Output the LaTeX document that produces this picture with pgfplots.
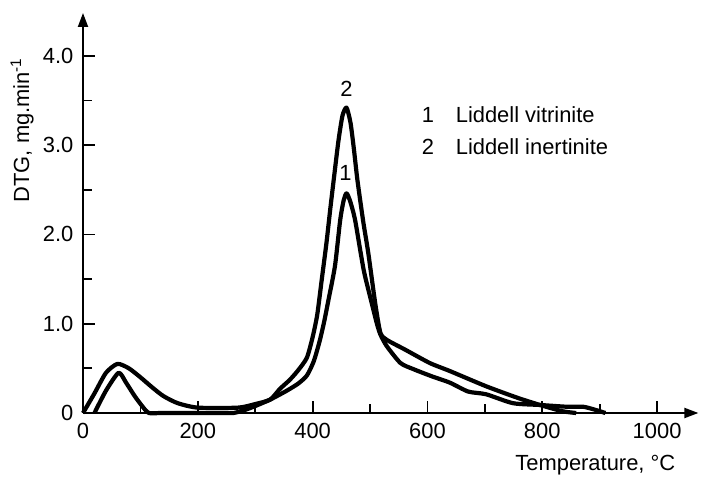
\documentclass[border=0pt]{standalone}
\usepackage{fontspec}
\setmainfont{Liberation Sans}
\usepackage{pgfplots}
\pgfplotsset{compat=1.18}
\usetikzlibrary{arrows.meta}

\begin{document}
\fontsize{11}{13}\selectfont
\begin{tikzpicture}
\begin{axis}[
  at={(0,0)}, anchor=south west,
  scale only axis,
  width=307.7bp, height=200bp,
  xmin=0, xmax=1072, ymin=0, ymax=4.48,
  axis lines=left,
  axis line style={line width=1bp, -{Triangle[length=7bp,width=5bp]}},
  tick align=inside,
  xtick={0,200,400,600,800,1000},
  xticklabels={0,200,400,600,800,1000},
  minor xtick={100,300,500,700,900},
  ytick={0,1,2,3,4},
  yticklabels={0,1.0,2.0,3.0,4.0},
  minor ytick={0.5,1.5,2.5,3.5},
  major tick length=6bp,
  minor tick length=4.5bp,
  every tick/.style={black, line width=0.9bp},
  /pgf/number format/assume math mode=true,
  tick label style={font=\fontsize{11}{13}\selectfont},
  xticklabel style={yshift=-1bp},
  yticklabel style={xshift=-1bp},
  clip=false,
]
% Liddell inertinite (2)
\addplot[black, line width=2.1bp, line join=round, smooth, tension=0.4] coordinates {
(0,0) (20,0.22) (40,0.45) (60,0.55) (80,0.50) (100,0.40) (120,0.29)
(140,0.19) (165,0.11) (200,0.06) (270,0.06) (300,0.10) (326,0.15)
(343,0.27) (360,0.37) (375,0.48) (390,0.62) (400,0.85) (408,1.10)
(416,1.50) (424,1.90) (431,2.30) (438,2.68) (445,3.05) (452,3.33)
(459,3.42) (466,3.25) (472,2.95) (478,2.61) (488,2.15) (497,1.79)
(509,1.23) (518,0.90) (529,0.82) (561,0.71) (604,0.56) (639,0.47)
(702,0.30) (757,0.17) (796,0.09) (835,0.02) (859,0)
};
% Liddell vitrinite (1)
\addplot[black, line width=2.1bp, line join=round, smooth, tension=0.4] coordinates {
(20,0) (40,0.25) (62,0.45) (75,0.34) (90,0.19) (104,0.07) (115,0)
(140,0) (240,0) (262,0) (280,0.03) (297,0.07) (326,0.15) (355,0.25)
(375,0.33) (390,0.42) (402,0.58) (412,0.80) (420,1.02) (428,1.28)
(439,1.65) (448,2.16) (454,2.38) (459,2.46) (465,2.38) (474,2.16)
(489,1.60) (503,1.23) (512,1.00) (518,0.88) (529,0.75) (553,0.56)
(576,0.49) (608,0.41) (639,0.34) (671,0.24) (702,0.21) (749,0.11)
(796,0.09) (843,0.07) (871,0.07) (890,0.04) (910,0)
};
% curve numbers
\node at (axis cs:459,3.63) {2};
\node at (axis cs:457,2.69) {1};
% key
\node at (axis cs:601,3.34) {1};
\node[anchor=west] at (axis cs:636,3.34) {Liddell vitrinite};
\node at (axis cs:601,2.98) {2};
\node[anchor=west] at (axis cs:636,2.98) {Liddell inertinite};
% axis titles
\node[rotate=90] at (axis cs:-106,3.17) {DTG, mg.min\textsuperscript{-1}};
\node[anchor=east] at (axis cs:1045,-0.58) {Temperature, \textdegree C};
\end{axis}
\pgfresetboundingbox
\path[use as bounding box] (-41.5bp,-32.5bp) rectangle (310.5bp,206.5bp);
\end{tikzpicture}
\end{document}
